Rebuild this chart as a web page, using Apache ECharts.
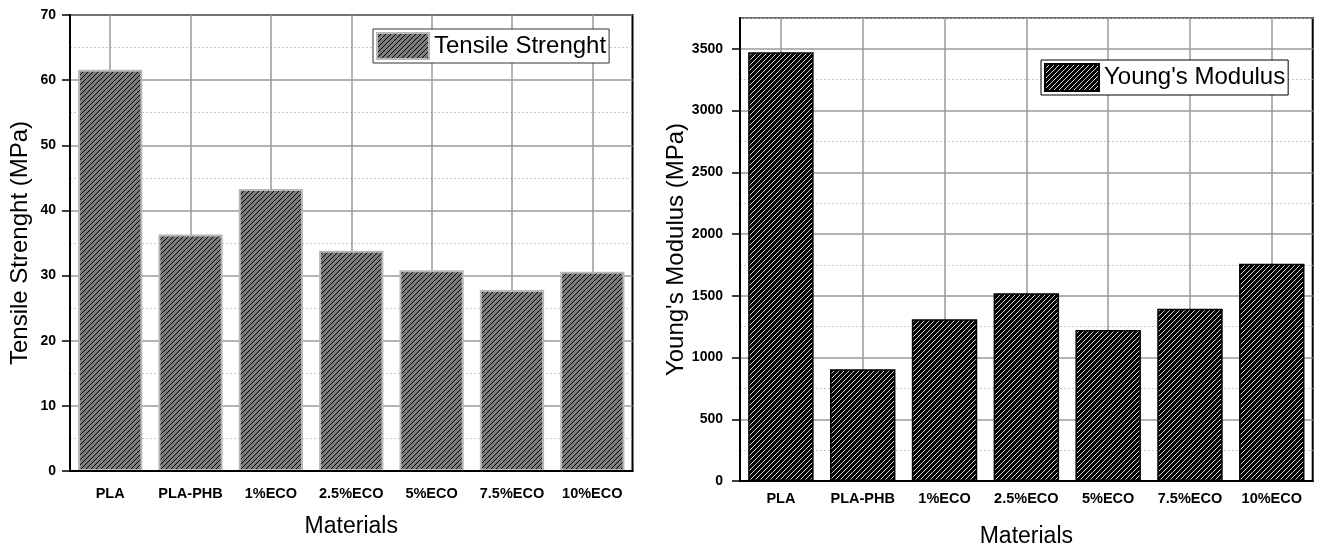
<!DOCTYPE html>
<html>
<head>
<meta charset="utf-8">
<title>Tensile Strength and Young's Modulus</title>
<script src="https://cdn.jsdelivr.net/npm/echarts@6/dist/echarts.min.js"></script>
<style>
  html, body { margin: 0; padding: 0; background: #fff; }
  #chart { width: 1317px; height: 548px; }
</style>
</head>
<body>
<div id="chart"></div>
<script>
// Materials tested and their measured properties
const materials = ['PLA', 'PLA-PHB', '1%ECO', '2.5%ECO', '5%ECO', '7.5%ECO', '10%ECO'];
const tensileStrength = [61.6, 36.3, 43.3, 33.8, 30.8, 27.8, 30.6];   // MPa
const youngsModulus = [3472, 905, 1310, 1520, 1222, 1396, 1760];      // MPa

// Axis tick values
const tensileTicks = [0, 10, 20, 30, 40, 50, 60, 70];
const modulusTicks = [0, 500, 1000, 1500, 2000, 2500, 3000, 3500];

const FONT = "'Liberation Sans', Arial, sans-serif";

// Diagonal hatch tile used as a repeating fill pattern
function hatch(bg, fg) {
  const size = 5;
  const c = document.createElement('canvas');
  c.width = size; c.height = size;
  const g = c.getContext('2d');
  g.fillStyle = bg;
  g.fillRect(0, 0, size, size);
  g.fillStyle = fg;
  for (let y = 0; y < size; y++) {
    g.fillRect((size - 1 - y + size) % size, y, 1, 1);
  }
  return { image: c, repeat: 'repeat' };
}

const grayHatch = hatch('#7c7c7c', '#000000');
const blackHatch = hatch('#000000', '#d6d6d6');

function panel(gi, cfg) {
  const step = cfg.ticks[1] - cfg.ticks[0];
  const yMax = cfg.max;
  return {
    grid: {
      left: cfg.left, top: cfg.top, width: cfg.width, height: cfg.height,
      outerBoundsMode: 'none', containLabel: false,
      show: true, borderColor: '#000', borderWidth: 2, backgroundColor: 'transparent'
    },
    xAxes: [
      { // category axis carrying the bars, labels and centre ticks
        type: 'category', gridIndex: gi, data: materials, position: 'bottom', z: 5,
        name: 'Materials', nameLocation: 'middle', nameGap: cfg.xNameGap,
        nameTextStyle: { fontFamily: FONT, fontSize: 23, color: '#000' },
        axisLine: { lineStyle: { color: '#000', width: 2 } },
        axisTick: { alignWithLabel: true, length: 8, lineStyle: { color: '#000', width: 1.5 } },
        axisLabel: { fontFamily: FONT, fontWeight: 'bold', fontSize: 14.5, color: '#000', margin: cfg.xLabelMargin, interval: 0 },
        splitLine: { show: false }
      },
      { // short ticks on category boundaries
        type: 'category', gridIndex: gi, data: materials, position: 'bottom', z: 5,
        axisLine: { show: false },
        axisTick: { alignWithLabel: false, length: 4, lineStyle: { color: '#000', width: 1.5 } },
        axisLabel: { show: false },
        splitLine: { show: false }
      }
    ],
    yAxes: [
      { // minor grid: dotted lines halfway between major ticks, plus short ticks
        type: 'value', gridIndex: gi, position: 'left', min: 0, max: yMax, interval: step / 2, z: 0,
        axisLine: { show: false },
        axisTick: { length: 5, lineStyle: { color: '#000', width: 1.5 } },
        axisLabel: { show: false },
        splitLine: { lineStyle: { color: ['rgba(0,0,0,0)', '#c8c8c8'], type: [2, 2], width: 1 } }
      },
      { // major grid lines; the bars are plotted on this axis
        type: 'value', gridIndex: gi, position: 'left', min: 0, max: yMax, interval: step, z: 0,
        axisLine: { show: false },
        axisTick: { show: false },
        axisLabel: { show: false },
        splitLine: { lineStyle: { color: '#9a9a9a', width: 1.5 } }
      },
      { // visible axis: line, long ticks, labels, title
        type: 'value', gridIndex: gi, position: 'left', min: 0, max: yMax, interval: step, z: 5,
        name: cfg.yName, nameLocation: 'middle', nameGap: cfg.yNameGap,
        nameTextStyle: { fontFamily: FONT, fontSize: 24, color: '#000' },
        axisLine: { show: true, lineStyle: { color: '#000', width: 2 } },
        axisTick: { show: true, length: 8, customValues: cfg.ticks, lineStyle: { color: '#000', width: 1.5 } },
        axisLabel: {
          fontFamily: FONT, fontWeight: 'bold', fontSize: 14, color: '#000',
          margin: cfg.yLabelMargin, customValues: cfg.ticks,
          formatter: v => String(v)
        },
        splitLine: { show: false }
      }
    ]
  };
}

const left = panel(0, {
  left: 70, top: 15, width: 562.5, height: 456, max: 70, ticks: tensileTicks,
  yName: 'Tensile Strenght (MPa)', yNameGap: 38, yLabelMargin: 14,
  xNameGap: 44, xLabelMargin: 15
});
const right = panel(1, {
  left: 740, top: 18, width: 572.7, height: 463, max: 3750, ticks: modulusTicks,
  yName: "Young's Modulus (MPa)", yNameGap: 48, yLabelMargin: 17,
  xNameGap: 44, xLabelMargin: 10
});

function centreLines() {
  return {
    silent: true, symbol: 'none', z: 1, animation: false,
    label: { show: false },
    lineStyle: { color: '#9a9a9a', width: 1.5, type: 'solid' },
    data: materials.map(m => ({ xAxis: m }))
  };
}

const option = {
  animation: false,
  backgroundColor: '#fff',
  grid: [left.grid, right.grid],
  xAxis: [...left.xAxes, ...right.xAxes],
  yAxis: [...left.yAxes, ...right.yAxes],
  legend: [
    {
      left: 373, top: 29, orient: 'vertical', icon: 'rect',
      itemWidth: 52, itemHeight: 26, padding: [3, 3, 3, 3],
      borderColor: '#333', borderWidth: 1, borderRadius: 0, backgroundColor: '#fff',
      textStyle: { fontFamily: FONT, fontSize: 24, color: '#000' },
      data: ['Tensile Strenght'], selectedMode: false
    },
    {
      left: 1041, top: 60, orient: 'vertical', icon: 'rect',
      itemWidth: 54, itemHeight: 27, padding: [3, 3, 3, 3],
      borderColor: '#000', borderWidth: 1, borderRadius: 0, backgroundColor: '#fff',
      textStyle: { fontFamily: FONT, fontSize: 24, color: '#000' },
      data: ["Young's Modulus"], selectedMode: false
    }
  ],
  series: [
    {
      name: 'Tensile Strenght', type: 'bar', xAxisIndex: 0, yAxisIndex: 1,
      barWidth: '80%', z: 2,
      itemStyle: { color: grayHatch, borderColor: '#b8b8b8', borderWidth: 2 },
      data: tensileStrength,
      markLine: centreLines()
    },
    {
      name: "Young's Modulus", type: 'bar', xAxisIndex: 2, yAxisIndex: 4,
      barWidth: '80%', z: 2,
      itemStyle: { color: blackHatch, borderColor: '#000', borderWidth: 1.5 },
      data: youngsModulus,
      markLine: centreLines()
    }
  ]
};

const chart = echarts.init(document.getElementById('chart'), null, { renderer: 'canvas' });
chart.setOption(option);
</script>
</body>
</html>
